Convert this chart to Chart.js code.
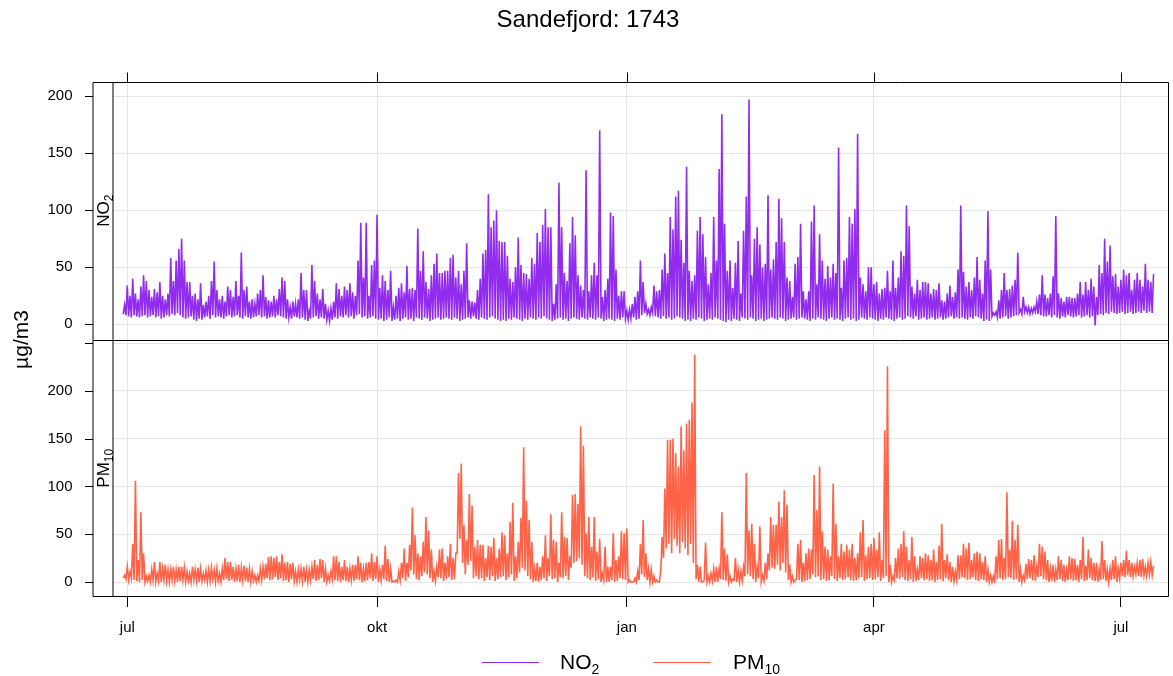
<!DOCTYPE html>
<html>
<head>
<meta charset="utf-8">
<title>Sandefjord: 1743</title>
<script src="https://cdn.jsdelivr.net/npm/chart.js@4.4.1/dist/chart.umd.min.js"></script>
<style>
  html, body { margin: 0; padding: 0; background: #fff; }
  canvas { display: block; }
</style>
</head>
<body>
<canvas id="timeplot" width="1173" height="676"></canvas>
<script>
// Sandefjord (1743): hourly NO2 and PM10, summarised as daily low / daily peak in µg/m3.
// Day numbers count from 1 July; the first value in each list is 30 June.
const firstDay = -1;

const monthDays = [0, 92, 184, 275, 366];
const monthLabels = ['jul', 'okt', 'jan', 'apr', 'jul'];
const no2Ticks = [0, 50, 100, 150, 200];
const pm10Ticks = [0, 50, 100, 150, 200, 250];

const no2Peak = [
  17, 34, 25, 40, 27, 22, 33, 43, 38, 30,
  24, 31, 28, 37, 25, 22, 27, 58, 38, 56,
  66, 75, 56, 37, 37, 25, 27, 22, 36, 17,
  20, 25, 38, 55, 30, 22, 25, 20, 33, 30,
  24, 38, 25, 63, 30, 33, 20, 22, 18, 27,
  30, 43, 24, 21, 20, 25, 22, 31, 41, 38,
  22, 15, 20, 18, 22, 45, 30, 30, 12, 52,
  38, 27, 22, 31, 18, 12, 14, 20, 36, 31,
  25, 33, 30, 36, 28, 25, 56, 89, 41, 89,
  25, 52, 56, 96, 32, 43, 38, 30, 47, 15,
  25, 32, 36, 28, 51, 31, 32, 30, 84, 47,
  64, 37, 31, 43, 53, 62, 45, 45, 47, 47,
  58, 61, 41, 47, 35, 47, 71, 21, 20, 19,
  30, 40, 62, 65, 114, 85, 91, 100, 73, 72,
  72, 60, 40, 37, 50, 76, 52, 45, 44, 40,
  58, 53, 80, 72, 87, 101, 85, 85, 18, 35,
  124, 85, 45, 38, 71, 94, 78, 43, 34, 30,
  135, 29, 43, 54, 43, 170, 24, 30, 40, 98,
  95, 48, 25, 29, 29, 12, 13, 18, 24, 29,
  56, 37, 18, 13, 15, 34, 29, 30, 48, 62,
  45, 94, 83, 112, 117, 74, 54, 138, 47, 38,
  43, 82, 94, 79, 59, 35, 45, 94, 56, 136,
  184, 88, 47, 56, 32, 54, 73, 27, 82, 112,
  197, 43, 75, 85, 70, 50, 53, 113, 48, 57,
  72, 110, 93, 72, 41, 38, 24, 53, 59, 88,
  29, 22, 29, 90, 104, 35, 79, 56, 40, 51,
  41, 53, 45, 155, 32, 56, 58, 94, 88, 101,
  167, 41, 35, 29, 50, 50, 35, 37, 27, 31,
  32, 47, 29, 56, 32, 41, 64, 60, 104, 86,
  33, 27, 39, 30, 37, 37, 36, 27, 31, 30,
  36, 21, 20, 27, 34, 24, 28, 48, 104, 46,
  33, 37, 30, 41, 59, 39, 27, 56, 99, 48,
  10, 11, 21, 30, 45, 30, 31, 34, 39, 63,
  13, 24, 15, 15, 14, 15, 20, 26, 43, 26,
  23, 27, 42, 95, 27, 23, 20, 24, 24, 23,
  23, 27, 37, 26, 37, 30, 40, 33, 24, 52,
  45, 75, 55, 69, 42, 44, 33, 39, 48, 43,
  45, 30, 39, 45, 39, 33, 53, 39, 37, 44
];

const no2Low = [
  9, 8, 7, 6, 8, 7, 6, 7, 8, 6,
  7, 8, 6, 7, 5, 6, 8, 7, 9, 8,
  10, 8, 6, 5, 6, 7, 4, 3, 5, 4,
  6, 7, 5, 8, 6, 7, 6, 5, 7, 8,
  6, 7, 8, 6, 5, 7, 6, 5, 6, 7,
  8, 6, 7, 5, 6, 7, 6, 8, 7, 6,
  5, 6, 5, 7, 6, 5, 6, 4, 3, 5,
  6, 7, 5, 6, 5, 4, 3, 4, 6, 5,
  7, 6, 8, 6, 7, 5, 8, 9, 6, 7,
  5, 6, 7, 5, 4, 5, 3, 4, 6, 3,
  4, 5, 3, 5, 6, 4, 5, 3, 6, 5,
  4, 6, 5, 3, 4, 5, 6, 4, 5, 6,
  5, 4, 6, 5, 3, 4, 5, 6, 5, 7,
  5, 4, 6, 5, 4, 6, 7, 5, 4, 3,
  4, 3, 5, 4, 6, 5, 4, 3, 5, 4,
  6, 5, 4, 6, 5, 7, 5, 4, 3, 4,
  5, 6, 4, 5, 3, 5, 6, 5, 4, 6,
  5, 4, 6, 5, 4, 6, 5, 3, 4, 5,
  4, 3, 5, 4, 6, 5, 4, 5, 6, 4,
  5, 8, 10, 9, 8, 10, 7, 6, 5, 7,
  5, 6, 4, 5, 7, 6, 5, 3, 4, 3,
  5, 4, 6, 5, 3, 4, 5, 4, 6, 5,
  4, 3, 2, 4, 3, 5, 4, 3, 6, 5,
  4, 6, 5, 3, 4, 5, 3, 4, 5, 6,
  5, 4, 6, 5, 3, 4, 5, 6, 4, 5,
  6, 5, 4, 3, 5, 4, 6, 5, 4, 3,
  5, 6, 4, 5, 4, 3, 5, 6, 4, 5,
  3, 4, 6, 5, 4, 6, 5, 4, 3, 5,
  4, 6, 5, 4, 3, 5, 6, 4, 5, 7,
  6, 5, 7, 4, 5, 6, 4, 5, 6, 4,
  5, 6, 4, 5, 6, 7, 5, 6, 5, 6,
  5, 4, 6, 5, 7, 6, 5, 3, 4, 3,
  7, 8, 6, 5, 6, 7, 5, 6, 7, 8,
  10, 9, 11, 10, 9, 10, 11, 9, 8, 7,
  7, 8, 6, 8, 6, 5, 7, 6, 8, 7,
  6, 7, 8, 6, 7, 8, 6, 7, -1, 8,
  9, 8, 10, 9, 11, 10, 9, 10, 11, 9,
  10, 11, 9, 10, 11, 10, 12, 10, 11, 10
];

const pm10Peak = [
  7, 16, 11, 40, 106, 23, 73, 30, 6, 7,
  13, 21, 9, 21, 14, 18, 13, 13, 16, 13,
  16, 16, 15, 11, 9, 16, 13, 15, 14, 9,
  12, 13, 15, 13, 14, 9, 14, 25, 21, 21,
  16, 14, 18, 15, 17, 15, 14, 11, 7, 7,
  14, 16, 19, 26, 27, 25, 27, 21, 29, 20,
  21, 19, 20, 11, 13, 14, 16, 13, 13, 16,
  23, 18, 24, 23, 14, 7, 11, 27, 27, 21,
  16, 23, 16, 14, 18, 18, 27, 20, 14, 20,
  21, 30, 21, 27, 13, 18, 38, 24, 14, 1,
  2, 11, 20, 35, 20, 39, 78, 49, 30, 27,
  42, 68, 54, 34, 11, 16, 34, 35, 20, 27,
  40, 25, 30, 114, 124, 60, 44, 92, 80, 37,
  44, 39, 39, 25, 38, 37, 46, 25, 35, 52,
  49, 30, 63, 83, 27, 42, 67, 141, 85, 65,
  42, 14, 20, 16, 27, 49, 25, 71, 44, 42,
  20, 73, 47, 46, 27, 91, 92, 82, 163, 143,
  51, 68, 37, 68, 32, 45, 9, 37, 16, 16,
  51, 23, 27, 53, 51, 56, 2, 0, 4, 11,
  40, 65, 30, 14, 13, 6, 2, 0, 47, 98,
  149, 149, 150, 135, 121, 163, 138, 166, 170, 188,
  238, 18, 16, 0, 41, 6, 9, 14, 16, 14,
  73, 35, 29, 6, 3, 25, 13, 11, 16, 114,
  54, 61, 40, 16, 58, 7, 20, 30, 68, 60,
  60, 84, 68, 96, 81, 18, 6, 2, 40, 44,
  20, 30, 35, 34, 112, 75, 121, 53, 37, 34,
  27, 103, 61, 27, 40, 32, 39, 34, 40, 25,
  30, 52, 65, 28, 37, 40, 46, 34, 52, 23,
  159, 226, 18, 6, 25, 35, 40, 53, 37, 23,
  47, 27, 13, 27, 25, 30, 28, 23, 34, 21,
  38, 61, 23, 29, 21, 16, 11, 28, 28, 40,
  35, 41, 23, 30, 32, 30, 21, 27, 13, 7,
  6, 27, 44, 45, 25, 94, 34, 64, 44, 60,
  13, 7, 19, 24, 23, 28, 16, 40, 37, 32,
  23, 14, 18, 13, 27, 23, 18, 13, 27, 25,
  24, 18, 23, 47, 17, 34, 25, 20, 20, 14,
  43, 23, 13, 14, 23, 27, 14, 20, 23, 33,
  23, 20, 16, 20, 23, 24, 16, 20, 21, 17
];

const pm10Low = [
  4, 3, 2, 4, 2, 1, 0, 2, 0, 1,
  0, 2, 0, 1, 0, 2, 1, 0, 2, 1,
  0, 1, 2, 0, 1, 0, 2, 1, 0, 1,
  2, 0, 1, 3, 0, 1, 0, 2, 3, 1,
  2, 0, 1, 0, 2, 1, 0, 0, 1, 0,
  1, 2, 3, 4, 2, 3, 5, 2, 4, 1,
  2, 0, 3, 1, 0, 2, 1, 0, 0, 2,
  3, 1, 2, 4, 0, 0, 1, 3, 2, 1,
  0, 2, 1, 0, 2, 1, 3, 2, 0, 1,
  2, 4, 1, 3, 0, 2, 3, 1, 0, 0,
  0, 0, 2, 4, 1, 5, 12, 8, 3, 2,
  6, 10, 8, 4, 0, 1, 5, 4, 1, 3,
  5, 2, 3, 30, 45, 20, 8, 18, 22, 4,
  6, 3, 4, 1, 5, 2, 6, 1, 3, 5,
  6, 2, 5, 8, 1, 4, 10, 15, 12, 6,
  3, 0, 1, 0, 2, 4, 1, 6, 3, 4,
  0, 5, 4, 6, 2, 15, 20, 22, 25, 18,
  6, 4, 2, 5, 1, 3, 0, 2, 0, 0,
  2, 0, 1, 4, 3, 2, 0, 0, 0, 0,
  2, 8, 5, 2, 0, 0, 0, 0, 12, 25,
  35, 40, 30, 45, 38, 30, 42, 35, 28, 40,
  20, 3, 0, 0, 2, 0, 0, 1, 0, 0,
  3, 2, 1, 0, 0, 2, 0, 0, 1, 6,
  8, 6, 3, 0, 4, 0, 1, 3, 12, 15,
  14, 18, 12, 20, 10, 2, 0, 0, 3, 2,
  0, 1, 2, 3, 8, 5, 6, 2, 3, 1,
  2, 6, 3, 1, 4, 2, 3, 5, 2, 1,
  2, 4, 5, 1, 3, 4, 2, 3, 5, 1,
  4, 6, 0, 0, 2, 4, 3, 5, 2, 1,
  3, 0, 1, 2, 4, 2, 3, 1, 2, 0,
  2, 3, 1, 4, 2, 0, 1, 2, 3, 5,
  4, 2, 3, 5, 2, 1, 3, 2, 0, 0,
  0, 1, 3, 4, 2, 3, 5, 4, 2, 3,
  0, 0, 2, 3, 4, 2, 1, 5, 6, 3,
  2, 0, 1, 0, 2, 3, 1, 0, 2, 3,
  1, 2, 0, 3, 1, 2, 4, 2, 1, 0,
  2, 3, 1, 0, 2, 3, 0, 4, 6, 5,
  7, 5, 6, 8, 6, 5, 7, 6, 8, 7
];

const FONT = '"Liberation Sans", Arial, sans-serif';
const NO2_COLOUR = '#912CEE';
const PM10_COLOUR = '#FF6347';
const GRID = '#e6e6e6';
const STRIP_WIDTH = 20;

// one dip and one peak per day gives the dense hourly look
function dailyTrace(low, peak) {
  const pts = [];
  for (let i = 0; i < peak.length; i++) {
    const day = firstDay + i;
    pts.push({ x: day - 0.5, y: low[i] }, { x: day, y: peak[i] });
  }
  return pts;
}

// text with a subscript part, returns the total width
function subText(ctx, x, y, main, sub, size, subSize, drop) {
  ctx.font = size + 'px ' + FONT;
  ctx.fillText(main, x, y);
  const w = ctx.measureText(main).width;
  ctx.font = subSize + 'px ' + FONT;
  ctx.fillText(sub, x + w, y + drop);
  return w + ctx.measureText(sub).width;
}

function subWidth(ctx, main, sub, size, subSize) {
  ctx.font = size + 'px ' + FONT;
  const w = ctx.measureText(main).width;
  ctx.font = subSize + 'px ' + FONT;
  return w + ctx.measureText(sub).width;
}

// panel frame, strips, outside tick marks, title, axis label and key
const latticeFrame = {
  id: 'latticeFrame',
  afterDraw(chart) {
    const { ctx, chartArea: a, scales } = chart;
    const L = a.left - STRIP_WIDTH + 0.5;
    const R = a.right - 0.5;
    const T = a.top + 0.5;
    const B = a.bottom - 0.5;
    const S = a.left + 0.5;
    const mid = Math.round(scales.yNo2.bottom) + 0.5;

    ctx.save();
    ctx.strokeStyle = '#000';
    ctx.lineWidth = 1;
    ctx.beginPath();
    ctx.rect(L, T, R - L, B - T);
    ctx.moveTo(S, T); ctx.lineTo(S, B);
    ctx.moveTo(L, mid); ctx.lineTo(R, mid);

    // y tick marks left of the strips
    [[scales.yNo2, no2Ticks], [scales.yPm, pm10Ticks]].forEach(([sc, vals]) => {
      vals.forEach(v => {
        const y = Math.round(sc.getPixelForValue(v)) + 0.5;
        ctx.moveTo(L - 8, y); ctx.lineTo(L, y);
      });
    });
    // x tick marks on top of the upper panel
    monthDays.forEach(d => {
      const x = Math.round(scales.x.getPixelForValue(d)) + 0.5;
      ctx.moveTo(x, T - 10); ctx.lineTo(x, T);
    });
    ctx.stroke();

    ctx.fillStyle = '#000';
    ctx.textBaseline = 'alphabetic';
    ctx.textAlign = 'left';

    // strip labels, rotated
    const strips = [
      [scales.yNo2, 'NO', '2'],
      [scales.yPm, 'PM', '10']
    ];
    strips.forEach(([sc, main, sub]) => {
      const cy = (sc.top + sc.bottom) / 2;
      const w = subWidth(ctx, main, sub, 17, 12);
      ctx.save();
      ctx.translate(a.left - STRIP_WIDTH / 2, cy);
      ctx.rotate(-Math.PI / 2);
      subText(ctx, -w / 2, 6, main, sub, 17, 12, 4);
      ctx.restore();
    });

    // title
    ctx.textAlign = 'center';
    ctx.textBaseline = 'middle';
    ctx.font = '24px ' + FONT;
    ctx.fillText('Sandefjord: 1743', 588, 20);

    // y axis label
    ctx.save();
    ctx.translate(22, (a.top + a.bottom) / 2);
    ctx.rotate(-Math.PI / 2);
    ctx.font = '21px ' + FONT;
    ctx.fillText('µg/m3', 0, 0);
    ctx.restore();

    // key
    ctx.textAlign = 'left';
    ctx.textBaseline = 'alphabetic';
    const keyY = 662.5;
    [[482, 539, 560, NO2_COLOUR, 'NO', '2'], [653, 711, 733, PM10_COLOUR, 'PM', '10']].forEach(k => {
      ctx.strokeStyle = k[3];
      ctx.beginPath();
      ctx.moveTo(k[0], keyY); ctx.lineTo(k[1], keyY);
      ctx.stroke();
      ctx.fillStyle = '#000';
      subText(ctx, k[2], 669, k[4], k[5], 21, 14, 5);
    });
    ctx.restore();
  }
};

const tickFont = { family: FONT, size: 15 };

new Chart(document.getElementById('timeplot'), {
  type: 'line',
  data: {
    datasets: [
      {
        label: 'NO2',
        data: dailyTrace(no2Low, no2Peak),
        yAxisID: 'yNo2',
        borderColor: NO2_COLOUR,
        borderWidth: 1.6,
        pointRadius: 0,
        tension: 0
      },
      {
        label: 'PM10',
        data: dailyTrace(pm10Low, pm10Peak),
        yAxisID: 'yPm',
        borderColor: PM10_COLOUR,
        borderWidth: 1.6,
        pointRadius: 0,
        tension: 0
      }
    ]
  },
  options: {
    responsive: false,
    animation: false,
    parsing: false,
    normalized: true,
    events: [],
    layout: { padding: { top: 82, right: 4, bottom: 29, left: 0 } },
    plugins: {
      legend: { display: false },
      tooltip: { enabled: false },
      title: { display: false }
    },
    scales: {
      x: {
        type: 'linear',
        position: 'bottom',
        min: -5.45,
        max: 383.7,
        afterBuildTicks: s => { s.ticks = monthDays.map(v => ({ value: v })); },
        afterFit: s => { s.height = 50; },
        grid: { color: GRID, tickColor: '#000', tickLength: 10, lineWidth: 1 },
        border: { display: false },
        ticks: {
          autoSkip: false,
          maxRotation: 0,
          padding: 12,
          color: '#000',
          font: tickFont,
          callback: (v, i) => monthLabels[i]
        }
      },
      yNo2: {
        type: 'linear',
        position: 'left',
        stack: 'panels',
        stackWeight: 1,
        weight: 1,
        min: -13.3,
        max: 212.3,
        afterBuildTicks: s => { s.ticks = no2Ticks.map(v => ({ value: v })); },
        afterFit: s => { s.width = 112.5; },
        grid: { color: GRID, drawTicks: false },
        border: { display: false },
        ticks: { padding: 40, color: '#000', font: tickFont }
      },
      yPm: {
        type: 'linear',
        position: 'left',
        stack: 'panels',
        stackWeight: 1,
        weight: 0,
        min: -15.7,
        max: 253.9,
        afterBuildTicks: s => { s.ticks = pm10Ticks.map(v => ({ value: v })); },
        afterFit: s => { s.width = 112.5; },
        grid: { color: GRID, drawTicks: false },
        border: { display: false },
        ticks: {
          padding: 40,
          color: '#000',
          font: tickFont,
          callback: v => (v === 250 ? '' : v)
        }
      }
    }
  },
  plugins: [latticeFrame]
});
</script>
</body>
</html>
